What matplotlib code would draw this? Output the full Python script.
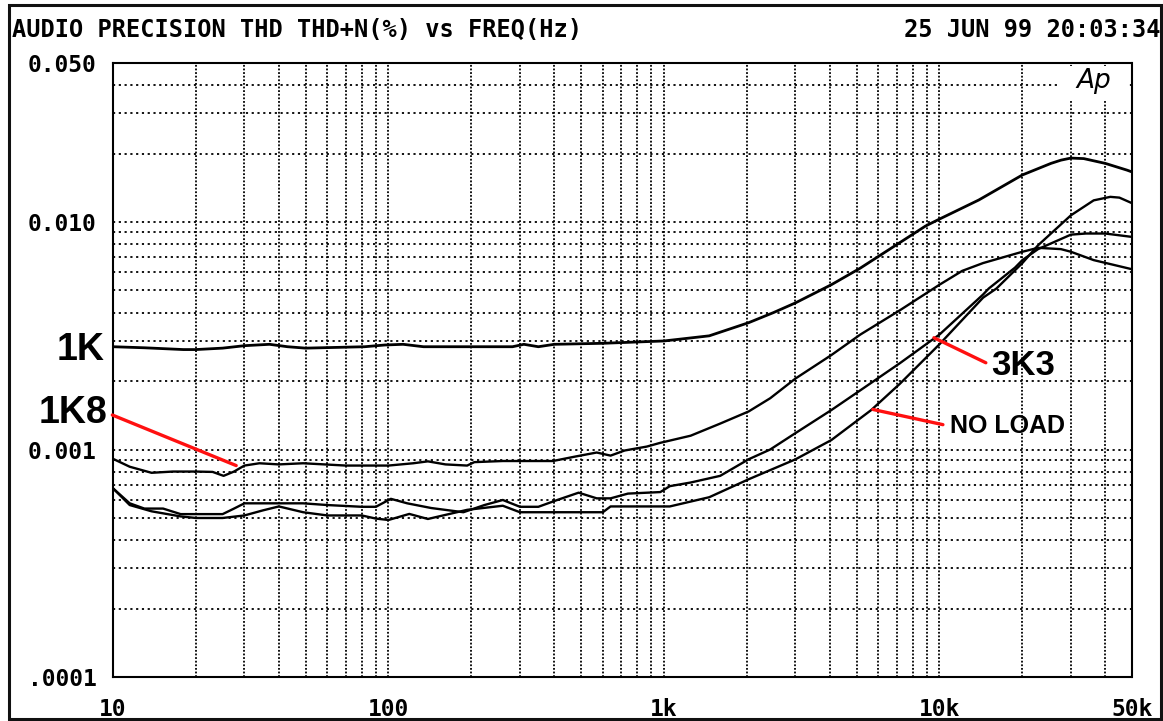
import matplotlib
matplotlib.use("Agg")
from matplotlib import pyplot as plt
from matplotlib.patches import Rectangle
import numpy as np

# THD+N (%) vs frequency (Hz)
freq_1k = [10, 13, 18, 20, 25, 30, 37, 43, 50, 82, 97, 113, 134, 200, 282, 310, 350,
           400, 600, 1000, 1460, 2030, 2500, 3000, 4050, 5160, 6600, 8900, 10000,
           13900, 20000, 25400, 27600, 30000, 33400, 40000, 48000, 50000]
thd_1k = [0.00283, 0.0028, 0.00275, 0.00275, 0.00279, 0.00286, 0.0029, 0.00283,
          0.00279, 0.00283, 0.00288, 0.0029, 0.00283, 0.00283, 0.00283, 0.0029,
          0.00283, 0.0029, 0.00293, 0.0030, 0.00316, 0.00361, 0.0040, 0.00441,
          0.0053, 0.00627, 0.0076, 0.0096, 0.0103, 0.0125, 0.0161, 0.0181, 0.0187,
          0.0191, 0.019, 0.0181, 0.0169, 0.0166]

freq_1k8 = [10, 11.5, 13.8, 16.5, 20, 23, 25.2, 27.5, 30, 34, 40, 49, 70, 100, 123,
            139, 161, 193, 205, 260, 395, 474, 570, 640, 720, 866, 970, 1250, 1600,
            2030, 2430, 3000, 4050, 5160, 7200, 10000, 12100, 14400, 20000, 22800,
            27600, 30000, 36300, 50000]
thd_1k8 = [0.00091, 0.00084, 0.00079, 0.0008, 0.0008, 0.000797, 0.000766, 0.0008,
           0.00085, 0.00087, 0.00086, 0.00087, 0.00085, 0.00085, 0.00087, 0.000887,
           0.00086, 0.00085, 0.00088, 0.00089, 0.00089, 0.00093, 0.00097, 0.00094,
           0.00099, 0.00103, 0.00107, 0.00115, 0.0013, 0.00147, 0.00168, 0.00205,
           0.0026, 0.0032, 0.0041, 0.0053, 0.0061, 0.0066, 0.0074, 0.0077, 0.0076,
           0.0074, 0.0068, 0.0062]

freq_3k3 = [10, 11.5, 13, 15.2, 17.6, 20, 25, 27.5, 30, 40, 49, 60, 80, 90, 102, 117,
            143, 187, 223, 260, 300, 350, 410, 490, 570, 640, 740, 970, 1050, 1250,
            1600, 2030, 2430, 3000, 4050, 5160, 7200, 10000, 14400, 15100, 18800,
            20000, 22800, 30000, 34000, 40000, 50000]
thd_3k3 = [0.000675, 0.00058, 0.00055, 0.00055, 0.00052, 0.00052, 0.00052, 0.00055,
           0.00058, 0.00058, 0.00058, 0.00057, 0.00056, 0.00056, 0.000607, 0.00058,
           0.000553, 0.00053, 0.00057, 0.0006, 0.00056, 0.00056, 0.0006, 0.000646,
           0.00061, 0.00061, 0.00064, 0.00065, 0.00069, 0.000716, 0.000766, 0.000906,
           0.001, 0.00118, 0.00149, 0.00182, 0.0024, 0.0032, 0.0048, 0.0051, 0.0063,
           0.0068, 0.0076, 0.0088, 0.0089, 0.0089, 0.0086]

freq_noload = [10, 11.5, 13.8, 17.6, 20, 25, 30, 35, 40, 49, 60, 80, 90, 100, 119, 139,
               193, 260, 300, 350, 600, 640, 1050, 1460, 2030, 3000, 4050, 5650, 7200,
               10000, 14400, 16100, 20000, 22800, 30000, 36300, 41700, 45000, 50000]
thd_noload = [0.000675, 0.00057, 0.000535, 0.000508, 0.0005, 0.0005, 0.000513, 0.00054,
              0.000562, 0.00053, 0.000513, 0.000513, 0.000497, 0.00049, 0.000521,
              0.000495, 0.000543, 0.000566, 0.00053, 0.00053, 0.00053, 0.000562,
              0.000562, 0.000617, 0.00074, 0.000905, 0.0011, 0.00149, 0.00195, 0.0029,
              0.00465, 0.0051, 0.0066, 0.0079, 0.0107, 0.01245, 0.0129, 0.0128, 0.0121]

x_ticks = [10, 100, 1000, 10000, 50000]
x_labels = ['10', '100', '1k', '10k', '50k']
y_ticks = [0.0001, 0.001, 0.01, 0.05]
y_labels = ['.0001', '0.001', '0.010', '0.050']

mono = 'DejaVu Sans Mono'
sans = 'Liberation Sans'

fig = plt.figure(figsize=(11.63, 7.21), dpi=100)
W, H = 1163, 721
ax = fig.add_axes([113 / W, 44 / H, 1019 / W, 614 / H])
ax.set_xscale('log')
ax.set_yscale('log')
ax.set_xlim(10, 50000)
ax.set_ylim(0.0001, 0.05)

# Grid: every 1..9 step of each decade
x_minor = [m * 10 ** e for e in range(1, 5) for m in range(2, 10) if m * 10 ** e <= 50000]
y_minor = [m * 10.0 ** e for e in range(-4, -1) for m in range(2, 10) if m * 10.0 ** e < 0.05]
ax.set_xticks(x_ticks, x_labels)
ax.set_xticks(x_minor, minor=True)
ax.set_yticks(y_ticks, y_labels)
ax.set_yticks(y_minor, minor=True)
ax.xaxis.set_minor_formatter(plt.NullFormatter())
ax.yaxis.set_minor_formatter(plt.NullFormatter())
ax.grid(axis='x', which='both', color='black', linestyle=(0, (1, 1)), linewidth=1.3)
ax.grid(axis='y', which='both', color='black', linestyle=(0, (1.2, 2)), linewidth=1.3)
ax.set_axisbelow(True)
ax.tick_params(which='both', length=0)
ax.tick_params(axis='x', pad=15)
ax.tick_params(axis='y', pad=12)
for lab in ax.get_xticklabels() + ax.get_yticklabels():
    lab.set_fontfamily(mono)
    lab.set_fontweight('bold')
    lab.set_fontsize(16.5)
for spine in ax.spines.values():
    spine.set_linestyle((0, (1, 1)))
    spine.set_linewidth(1.5)

# Curves
ax.plot(freq_1k, thd_1k, color='black', linewidth=2.0, zorder=3)
ax.plot(freq_1k8, thd_1k8, color='black', linewidth=1.7, zorder=3)
ax.plot(freq_3k3, thd_3k3, color='black', linewidth=1.7, zorder=3)
ax.plot(freq_noload, thd_noload, color='black', linewidth=1.7, zorder=3)

# Ap logo on a white patch
ax.add_patch(Rectangle((27500, 0.034), 48000 - 27500, 0.0485 - 0.034,
                       facecolor='white', edgecolor='none', zorder=1))
ax.text(36400, 0.0417, 'Ap', fontsize=19, style='italic', fontweight='light',
        family='DejaVu Sans', ha='center', va='center', zorder=4)

# Curve labels
red = '#ff1010'
ax.text(9.35, 0.00248, '1K', family=sans, fontweight='bold', fontsize=27,
        ha='right', va='baseline', clip_on=False)
ax.annotate('1K8', xy=(28, 0.00085), xytext=(9.51, 0.00131), family=sans,
            fontweight='bold', fontsize=27, ha='right', va='baseline',
            arrowprops=dict(arrowstyle='-', color=red, lw=2.4, shrinkA=2, shrinkB=0,
                            relpos=(1, 0.5)))
ax.annotate('3K3', xy=(9550, 0.0031), xytext=(15400, 0.00213), family=sans,
            fontweight='bold', fontsize=25, ha='left', va='baseline',
            arrowprops=dict(arrowstyle='-', color=red, lw=2.4, shrinkA=2, shrinkB=0,
                            relpos=(0, 0.5)))
ax.annotate('NO LOAD', xy=(5730, 0.0015), xytext=(10900, 0.00118), family=sans,
            fontweight='bold', fontsize=18, ha='left', va='baseline',
            arrowprops=dict(arrowstyle='-', color=red, lw=2.4, shrinkA=3, shrinkB=0,
                            relpos=(0, 0.5)))

# Header texts
fig.text(12 / W, 1 - 30 / H, 'AUDIO PRECISION THD THD+N(%) vs FREQ(Hz)', family=mono,
         fontweight='bold', fontsize=17, ha='left', va='center')
fig.text(1160 / W, 1 - 30 / H, '25 JUN 99 20:03:34', family=mono,
         fontweight='bold', fontsize=17, ha='right', va='center')

# Outer frame
fig.add_artist(Rectangle((9 / W, 2 / H), 1152 / W, 714 / H, fill=False,
                         edgecolor='#111111', linewidth=2.2, transform=fig.transFigure))

fig.savefig('out.png', dpi=100)
